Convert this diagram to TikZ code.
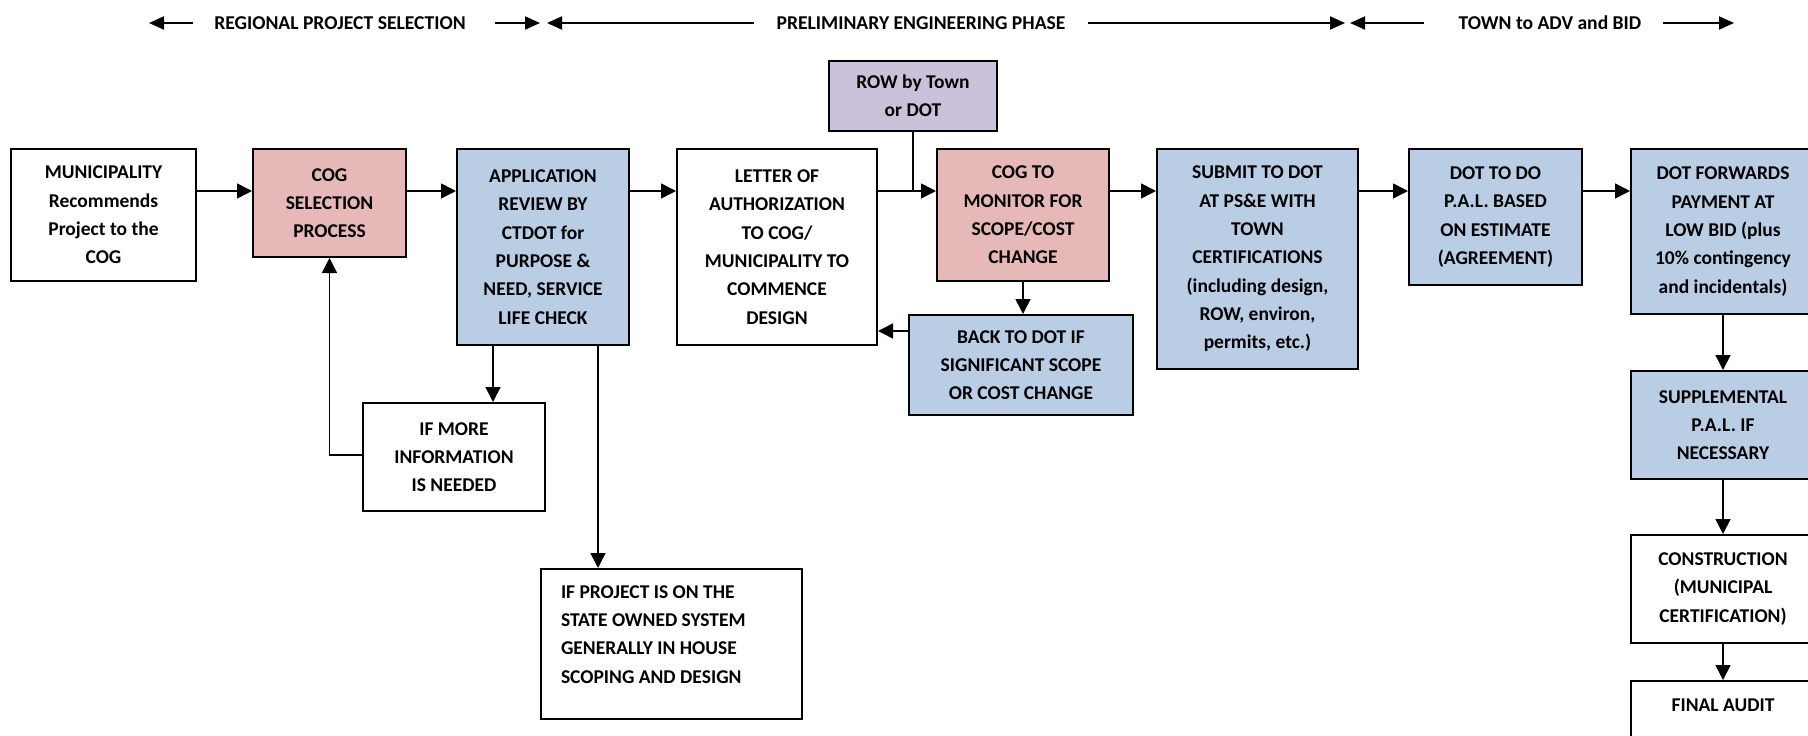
\documentclass[tikz,border=0pt]{standalone}
\usepackage{fontspec}
\setmainfont{Carlito}
\usetikzlibrary{arrows.meta}
\definecolor{pinkfill}{HTML}{E6B9B8}
\definecolor{bluefill}{HTML}{B9CDE5}
\definecolor{purplefill}{HTML}{CCC1DA}
\begin{document}
\begin{tikzpicture}[x=1pt,y=-1pt,
  every node/.style={font=\fontsize{19.5}{28.3}\selectfont\bfseries},
  box/.style={draw=black, line width=2pt, rectangle, inner sep=0pt, align=center},
  pinkbox/.style={box, fill=pinkfill},
  bluebox/.style={box, fill=bluefill},
  purplebox/.style={box, fill=purplefill},
  arr/.style={line width=1.6pt, -{Triangle[length=15pt,width=15pt]}},
  ln/.style={line width=1.6pt},
  hdr/.style={font=\fontsize{19.6}{24}\selectfont\bfseries, inner sep=0pt},
  harr/.style={line width=2pt, -{Triangle[length=15pt,width=13pt]}},
]
\useasboundingbox (0,0) rectangle (1808,736);
\clip (0,0) rectangle (1808,736);
\fill[white] (0,0) rectangle (1808,736);

% header
\node[hdr] (h1) at (340,23) {REGIONAL PROJECT SELECTION};
\node[hdr] (h2) at (921,23) {PRELIMINARY ENGINEERING PHASE};
\node[hdr] (h3) at (1550,23) {TOWN to ADV and BID};
\coordinate (a1s) at (193,23); \coordinate (a1e) at (149,23);
\coordinate (a2s) at (495,23); \coordinate (a2e) at (540,23);
\coordinate (a3s) at (754,23); \coordinate (a3e) at (547,23);
\coordinate (a4s) at (1088,23); \coordinate (a4e) at (1345,23);
\coordinate (a5s) at (1424,23); \coordinate (a5e) at (1350,23);
\coordinate (a6s) at (1663,23); \coordinate (a6e) at (1734,23);
\draw[harr] (a1s) -- (a1e);
\draw[harr] (a2s) -- (a2e);
\draw[harr] (a3s) -- (a3e);
\draw[harr] (a4s) -- (a4e);
\draw[harr] (a5s) -- (a5e);
\draw[harr] (a6s) -- (a6e);

% boxes
\node[box, minimum width=185pt, minimum height=132pt] (mun) at (103.5,215)
  {MUNICIPALITY\\Recommends\\Project to the\\COG};
\node[pinkbox, minimum width=153pt, minimum height=108pt] (cog) at (329.5,203)
  {COG\\SELECTION\\PROCESS};
\node[bluebox, minimum width=172pt, minimum height=196pt] (app) at (543,247)
  {APPLICATION\\REVIEW BY\\CTDOT for\\PURPOSE \&\\NEED, SERVICE\\LIFE CHECK};
\node[box, minimum width=200pt, minimum height=196pt] (letter) at (777,247)
  {LETTER OF\\AUTHORIZATION\\TO COG/\\MUNICIPALITY TO\\COMMENCE\\DESIGN};
\node[purplebox, minimum width=168pt, minimum height=70pt] (row) at (913,96)
  {ROW by Town\\or DOT};
\node[pinkbox, minimum width=172pt, minimum height=132pt] (cogmon) at (1023,215)
  {COG TO\\MONITOR FOR\\SCOPE/COST\\CHANGE};
\node[bluebox, minimum width=224pt, minimum height=100pt] (back) at (1021,365)
  {BACK TO DOT IF\\SIGNIFICANT SCOPE\\OR COST CHANGE};
\node[bluebox, minimum width=201pt, minimum height=220pt] (submit) at (1257.5,259)
  {SUBMIT TO DOT\\AT PS\&E WITH\\TOWN\\CERTIFICATIONS\\(including design,\\ROW, environ,\\permits, etc.)};
\node[bluebox, minimum width=173pt, minimum height=136pt] (dottodo) at (1495.5,217)
  {DOT TO DO\\P.A.L. BASED\\ON ESTIMATE\\(AGREEMENT)};
\node[bluebox, minimum width=184pt, minimum height=165pt] (dotfwd) at (1723,231.5)
  {DOT FORWARDS\\PAYMENT AT\\LOW BID (plus\\10\% contingency\\and incidentals)};
\node[bluebox, minimum width=184pt, minimum height=108pt] (supp) at (1723,425)
  {SUPPLEMENTAL\\P.A.L. IF\\NECESSARY};
\node[box, minimum width=184pt, minimum height=108pt] (constr) at (1723,589)
  {CONSTRUCTION\\(MUNICIPAL\\CERTIFICATION)};
\node[box, minimum width=184pt, minimum height=109pt] (final) at (1723,735.5) {};
\node (finaltxt) at (1723,705) {FINAL AUDIT};
\node[box, minimum width=182pt, minimum height=108pt] (ifmore) at (454,457)
  {IF MORE\\INFORMATION\\IS NEEDED};
\node[box, minimum width=261pt, minimum height=150pt, text width=221pt, align=flush left] (ifproj) at (671.5,644)
  {IF PROJECT IS ON THE\\STATE OWNED SYSTEM\\GENERALLY IN HOUSE\\SCOPING AND DESIGN\\[-9pt]\mbox{}};

% helper coordinates
\coordinate (row1) at (0,191);
\coordinate (y331) at (0,331);
\coordinate (y455) at (0,455);
\coordinate (x493) at (493,0);
\coordinate (x598) at (598,0);

% connectors
\draw[arr] (mun.east |- row1) -- (cog.west |- row1);
\draw[arr] (cog.east |- row1) -- (app.west |- row1);
\draw[arr] (app.east |- row1) -- (letter.west |- row1);
\draw[arr] (letter.east |- row1) -- (cogmon.west |- row1);
\draw[ln] (row.south) -- (row.south |- row1);
\draw[arr] (cogmon.east |- row1) -- (submit.west |- row1);
\draw[arr] (submit.east |- row1) -- (dottodo.west |- row1);
\draw[arr] (dottodo.east |- row1) -- (dotfwd.west |- row1);
\draw[arr] (dotfwd.south) -- (supp.north);
\draw[arr] (supp.south) -- (constr.north);
\draw[arr] (constr.south) -- (final.north);
\draw[arr] (cogmon.south) -- (cogmon.south |- back.north);
\draw[arr] (back.west |- y331) -- (letter.east |- y331);
\draw[arr] (x493 |- app.south) -- (x493 |- ifmore.north);
\draw[arr] (x598 |- app.south) -- (x598 |- ifproj.north);
\draw[arr] (ifmore.west |- y455) -| (cog.south);
\end{tikzpicture}
\end{document}
